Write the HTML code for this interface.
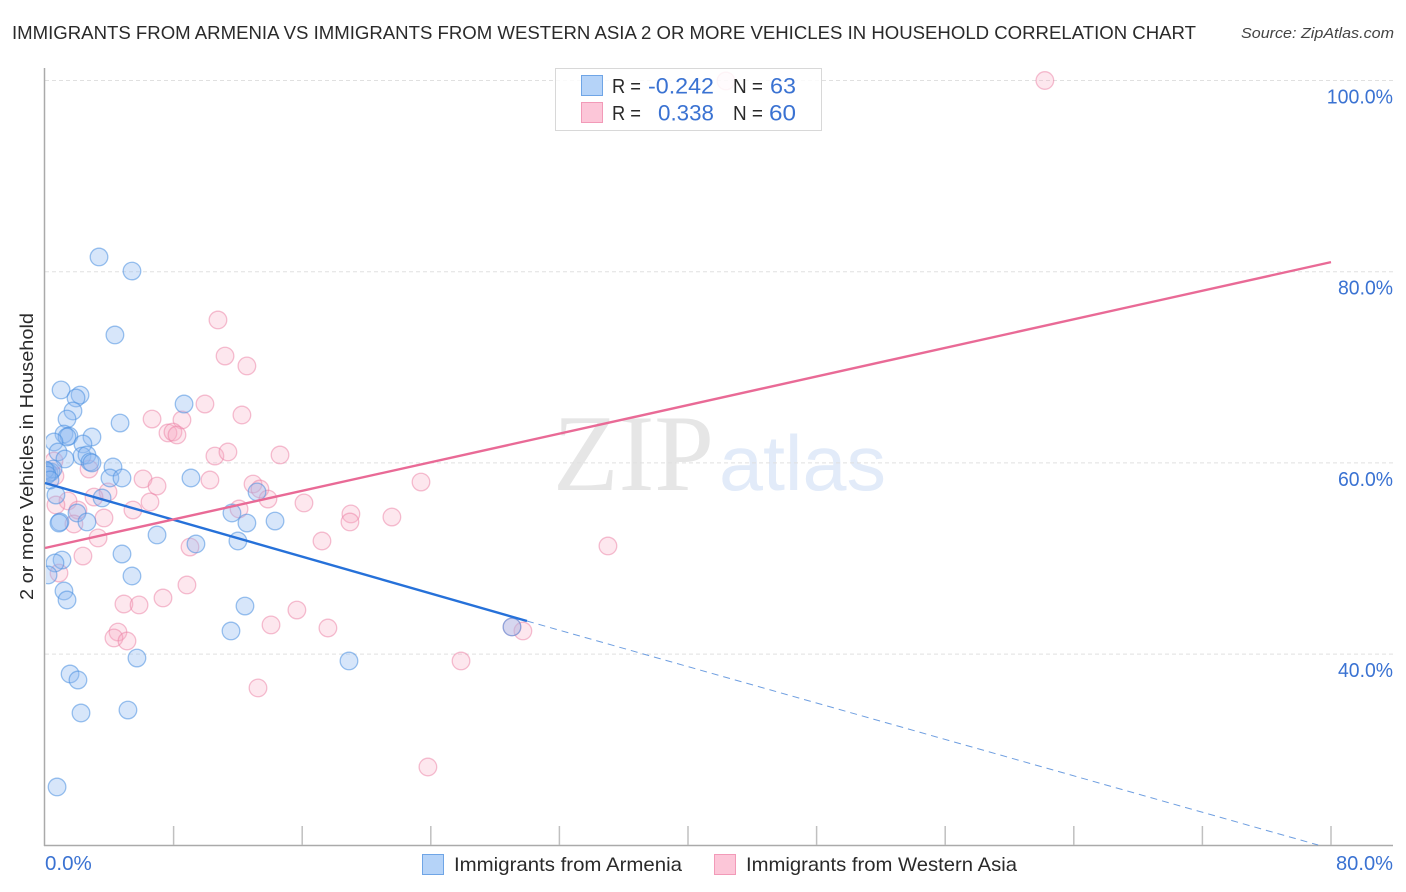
<!DOCTYPE html>
<html lang="en">
<head>
<meta charset="utf-8">
<title>Immigrants from Armenia vs Immigrants from Western Asia correlation chart</title>
<style>
html,body{margin:0;padding:0;background:#fff;width:1406px;height:892px;overflow:hidden}
svg{display:block;font-family:"Liberation Sans",sans-serif}
</style>
</head>
<body>
<svg id="chart" xmlns="http://www.w3.org/2000/svg" width="1406" height="892" viewBox="0 0 1406 892">
  <defs><clipPath id="plot-clip"><rect x="46" y="68" width="1348" height="777"/></clipPath></defs>
  <text x="12" y="39" font-size="18.5" fill="#2a2a2a" textLength="1184" lengthAdjust="spacingAndGlyphs">IMMIGRANTS FROM ARMENIA VS IMMIGRANTS FROM WESTERN ASIA 2 OR MORE VEHICLES IN HOUSEHOLD CORRELATION CHART</text>
  <text x="1241" y="38" font-size="15" font-style="italic" fill="#444" textLength="153" lengthAdjust="spacingAndGlyphs">Source: ZipAtlas.com</text>
  <g id="watermark">
    <text x="553" y="490" font-family="'Liberation Serif',serif" font-size="109" fill="#e6e6e6" textLength="161" lengthAdjust="spacingAndGlyphs">ZIP</text>
    <text x="719" y="490" font-size="78" fill="#e2ebf9" textLength="167" lengthAdjust="spacingAndGlyphs">atlas</text>
  </g>
  <g id="grid"></g>
  <g id="axes"></g>
  <g id="marks" clip-path="url(#plot-clip)"></g>
  <g id="trends"></g>
  <text transform="translate(33,456.5) rotate(-90)" text-anchor="middle" font-size="18.5" fill="#2a2a2a" textLength="287" lengthAdjust="spacingAndGlyphs">2 or more Vehicles in Household</text>
  <g>
    <rect x="555.5" y="68.5" width="266" height="62" fill="#fff" fill-opacity="0.84" stroke="#d8d8d8" stroke-width="1"/>
    <rect x="581.5" y="75.5" width="21" height="20" fill="#b5d3f8" stroke="#6fa5e6"/>
    <rect x="581.5" y="102.5" width="21" height="20" fill="#fcc6d8" stroke="#f29ab8"/>
    <g font-size="20" fill="#2a2a2a">
      <text x="612" y="93" textLength="29" lengthAdjust="spacingAndGlyphs">R =</text>
      <text x="733" y="93" textLength="30" lengthAdjust="spacingAndGlyphs">N =</text>
      <text x="612" y="120" textLength="29" lengthAdjust="spacingAndGlyphs">R =</text>
      <text x="733" y="120" textLength="30" lengthAdjust="spacingAndGlyphs">N =</text>
    </g>
    <g font-size="22" fill="#3a72d2" text-anchor="end">
      <text x="714" y="93.5" textLength="66" lengthAdjust="spacingAndGlyphs">-0.242</text>
      <text x="796" y="93.5" textLength="26" lengthAdjust="spacingAndGlyphs">63</text>
      <text x="714" y="120.5" textLength="56" lengthAdjust="spacingAndGlyphs">0.338</text>
      <text x="796" y="120.5" textLength="27" lengthAdjust="spacingAndGlyphs">60</text>
    </g>
  </g>
  <g>
    <rect x="422.5" y="854.5" width="21" height="20" fill="#b5d3f8" stroke="#6fa5e6"/>
    <text x="454" y="871" font-size="19.5" fill="#2a2a2a" textLength="228" lengthAdjust="spacingAndGlyphs">Immigrants from Armenia</text>
    <rect x="714.5" y="854.5" width="21" height="20" fill="#fcc6d8" stroke="#f29ab8"/>
    <text x="746" y="871" font-size="19.5" fill="#2a2a2a" textLength="271" lengthAdjust="spacingAndGlyphs">Immigrants from Western Asia</text>
  </g>
</svg>
<script>
const yTickValues = [100, 80, 60, 40];
const yTickLabels = ["100.0%", "80.0%", "60.0%", "40.0%"];
const xTickValues = [0, 8, 16, 24, 32, 40, 48, 56, 64, 72, 80];
const xEndLabels = ["0.0%", "80.0%"];

const armeniaX = [3.36,5.41,4.35,1.00,2.18,1.93,1.74,1.37,4.67,1.18,1.49,1.37,2.92,2.36,0.56,0.81,2.30,2.61,1.24,2.80,2.92,4.23,4.04,4.79,9.08,8.65,13.19,3.55,0.68,1.99,0.93,0.87,2.61,11.63,12.56,14.31,6.97,9.39,12.00,4.79,1.06,0.62,5.41,0.19,1.18,1.37,12.44,11.57,5.72,18.91,1.56,2.05,2.24,5.16,0.75,29.05,0.12,0.25,0.37,0.50,0.00,0.12,0.31];
const armeniaY = [81.54,80.07,73.38,67.63,67.10,66.79,65.43,64.59,64.17,63.02,62.81,62.71,62.71,61.98,62.19,61.14,60.72,60.83,60.41,60.10,60.00,59.57,58.42,58.42,58.42,66.16,56.96,56.33,56.64,54.76,53.82,53.71,53.82,54.76,53.71,53.92,52.46,51.52,51.83,50.47,49.84,49.53,48.17,48.28,46.60,45.66,45.03,42.42,39.59,39.28,37.92,37.29,33.84,34.15,26.10,42.84,59.15,58.94,59.05,59.36,59.25,58.73,58.21];

const westernAsiaX = [42.36,62.20,10.76,11.20,12.56,9.95,12.25,6.66,8.52,7.65,7.96,8.21,10.57,11.38,14.62,10.26,6.10,6.97,23.39,12.94,13.37,2.74,0.62,0.56,13.87,16.11,3.92,12.07,6.53,5.47,3.05,1.43,0.68,2.05,3.67,1.80,19.03,18.97,21.58,17.23,3.30,2.36,9.02,35.02,8.83,0.87,7.34,4.91,5.85,15.67,4.54,4.29,5.10,14.06,17.60,29.73,29.05,25.88,13.25,23.82];
const westernAsiaY = [99.95,100,74.95,71.18,70.14,66.16,65.01,64.59,64.49,63.13,63.23,62.92,60.72,61.14,60.83,58.21,58.32,57.58,58.00,57.79,57.27,59.36,58.63,60.20,56.22,55.81,56.96,55.18,55.91,55.07,56.43,56.02,55.60,55.07,54.24,53.61,54.66,53.82,54.34,51.83,52.15,50.26,51.20,51.31,47.23,48.48,45.87,45.24,45.14,44.61,42.31,41.69,41.37,43.05,42.73,42.42,42.84,39.28,36.46,28.19];

const armeniaTrendX = [0, 29.98];
const armeniaTrendY = [57.9, 43.46];
const armeniaDashX = [29.98, 79.2];
const armeniaDashY = [43.46, 20.03];
const westernAsiaTrendX = [0, 80];
const westernAsiaTrendY = [51.1, 81.0];

const NS = "http://www.w3.org/2000/svg";
function xScale(v) { return 45 + v * 16.075; }
function yScale(v) { return 80.5 + (100 - v) * 9.56; }
function labelWidth(text) { return text.length * 9.5; }
function make(tag, attrs, parent) {
  const el = document.createElementNS(NS, tag);
  for (const k in attrs) el.setAttribute(k, attrs[k]);
  parent.appendChild(el);
  return el;
}
const grid = document.getElementById("grid");
const axes = document.getElementById("axes");
const marks = document.getElementById("marks");
const trends = document.getElementById("trends");

yTickValues.forEach(function (v, i) {
  const line = make("line", {x1: 45, x2: 1393, y1: yScale(v), y2: yScale(v), stroke: "#e0e0e0", "stroke-width": 1, "stroke-dasharray": "4 3"}, grid);
  
  
  const label = make("text", {x: 1393, y: yScale(v) + 23, "text-anchor": "end", "font-size": 20, fill: "#3a72d2", textLength: yTickLabels[i].length * 11.2 - 1, lengthAdjust: "spacingAndGlyphs"}, axes);
  label.textContent = yTickLabels[i];
  
  
});

const yAxisLine = make("line", {x1: 44.5, x2: 44.5, y1: 68, y2: 846, stroke: "#aaaaaa", "stroke-width": 1.5}, axes);


const xAxisLine = make("line", {x1: 44, x2: 1393, y1: 845.5, y2: 845.5, stroke: "#aaaaaa", "stroke-width": 1.5}, axes);



xTickValues.slice(1).forEach(function (v) {
  const tick = make("line", {x1: xScale(v), x2: xScale(v), y1: 826, y2: 845, stroke: "#c0c0c0", "stroke-width": 1.5}, axes);
  
  
});

const xLabelLeft = make("text", {x: 45, y: 870, "font-size": 20, fill: "#3a72d2", textLength: xEndLabels[0].length * 11.7, lengthAdjust: "spacingAndGlyphs"}, axes);
xLabelLeft.textContent = xEndLabels[0];


const xLabelRight = make("text", {x: 1393, y: 870, "text-anchor": "end", "font-size": 20, fill: "#3a72d2", textLength: xEndLabels[1].length * 11.4, lengthAdjust: "spacingAndGlyphs"}, axes);
xLabelRight.textContent = xEndLabels[1];



westernAsiaX.forEach(function (v, i) {
  const c = make("circle", {cx: xScale(v), cy: yScale(westernAsiaY[i]), r: 8.8, fill: "#f7a8c2", "fill-opacity": 0.28, stroke: "#ec7fa3", "stroke-opacity": 0.5, "stroke-width": 1.3}, marks);
  
  
});
armeniaX.forEach(function (v, i) {
  const c = make("circle", {cx: xScale(v), cy: yScale(armeniaY[i]), r: 8.8, fill: "#8fb9f0", "fill-opacity": 0.36, stroke: "#4a8fe0", "stroke-opacity": 0.55, "stroke-width": 1.3}, marks);
  
  
});

const armeniaDash = make("line", {x1: xScale(armeniaDashX[0]), y1: yScale(armeniaDashY[0]), x2: xScale(armeniaDashX[1]), y2: yScale(armeniaDashY[1]), stroke: "#4a86d8", "stroke-width": 1, "stroke-opacity": 0.8, "stroke-dasharray": "7 5"}, trends);


const armeniaLine = make("line", {x1: xScale(armeniaTrendX[0]), y1: yScale(armeniaTrendY[0]), x2: xScale(armeniaTrendX[1]), y2: yScale(armeniaTrendY[1]), stroke: "#2671d9", "stroke-width": 2.4}, trends);


const westernLine = make("line", {x1: xScale(westernAsiaTrendX[0]), y1: yScale(westernAsiaTrendY[0]), x2: xScale(westernAsiaTrendX[1]), y2: yScale(westernAsiaTrendY[1]), stroke: "#e96a96", "stroke-width": 2.4}, trends);


</script>
</body>
</html>
